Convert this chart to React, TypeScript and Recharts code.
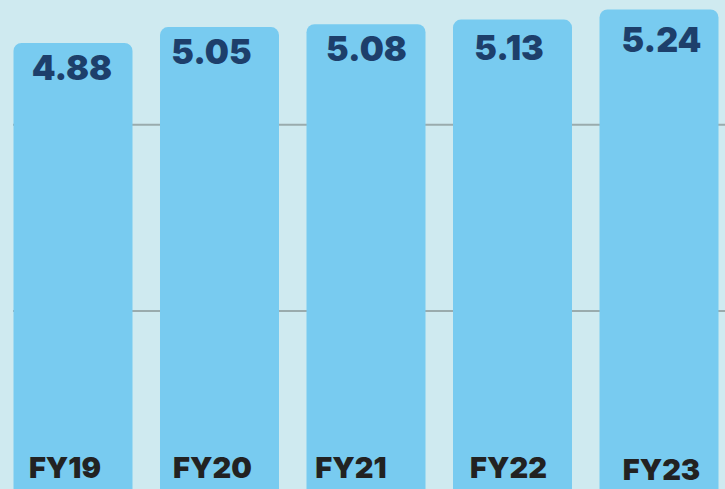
import React from "react";
import { BarChart, Bar, XAxis, YAxis, CartesianGrid, LabelList } from "recharts";

const categories = ["FY19", "FY20", "FY21", "FY22", "FY23"];
const values = [4.88, 5.05, 5.08, 5.13, 5.24];
const gridTicks = [2, 4];

// small per-label text nudges (style only), relative to the bar the library computes
const valueDx = [-1, -8, 0.5, -3.5, 2.5];
const valueDy = [37, 37, 37, 40, 43];
const nameDx = [-8, -7, -15, -4, 2.5];
const nameDy = [-19, -19, -19, -19, -17];

const data = categories.map((name, i) => ({ name, value: values[i] }));

const FONT = "Inter, 'Open Sans', sans-serif";

const ValueLabel = (props: any) => {
  const { x, y, width, value, index } = props;
  return (
    <text
      x={x + width / 2 + (valueDx[index] ?? 0)}
      y={y + (valueDy[index] ?? 38)}
      textAnchor="middle"
      fill="#1d3f6b"
      fontFamily={FONT}
      fontWeight={900}
      fontSize={34}
    >
      {Number(value).toFixed(2)}
    </text>
  );
};

const NameLabel = (props: any) => {
  const { x, y, width, height, value, index } = props;
  return (
    <text
      x={x + width / 2 + (nameDx[index] ?? 0)}
      y={y + height + (nameDy[index] ?? -18)}
      textAnchor="middle"
      fill="#222222"
      fontFamily={FONT}
      fontWeight={900}
      fontSize={29}
    >
      {value}
    </text>
  );
};

export default function App() {
  return (
    <div
      style={{
        position: "absolute",
        top: 0,
        left: 0,
        width: 725,
        height: 489,
        overflow: "hidden",
        background: "#cfeaf0",
      }}
    >
      <BarChart
        width={732}
        height={497}
        data={data}
        margin={{ top: 1, right: 0, bottom: 0, left: 13 }}
        barSize={119}
      >
        <CartesianGrid
          vertical={false}
          horizontalValues={gridTicks}
          stroke="#9aabad"
          strokeWidth={2}
        />
        <XAxis dataKey="name" hide padding={{ left: -13.5, right: 0 }} />
        <YAxis hide domain={[0, 5.33]} ticks={gridTicks} />
        <Bar dataKey="value" fill="#78cbf0" radius={[8, 8, 0, 0]} isAnimationActive={false}>
          <LabelList dataKey="value" content={ValueLabel} />
          <LabelList dataKey="name" content={NameLabel} />
        </Bar>
      </BarChart>
    </div>
  );
}
